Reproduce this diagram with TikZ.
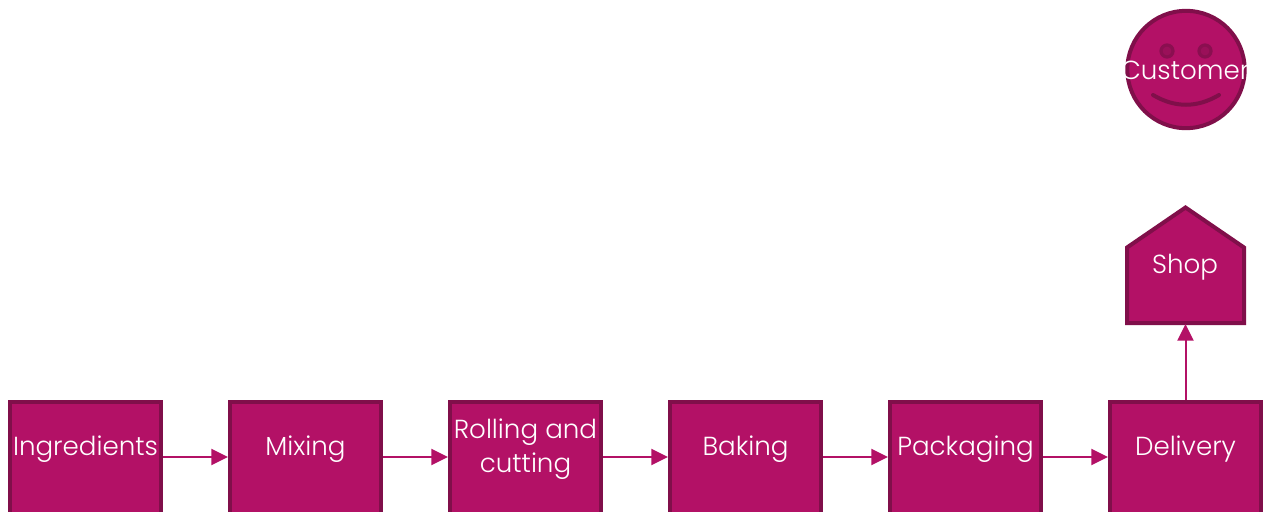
\documentclass[tikz,border=0pt]{standalone}
\usepackage{fontspec}
\setmainfont{Poppins}[UprightFont=* Light]
\usetikzlibrary{arrows.meta}
\definecolor{plumfill}{HTML}{B31166}
\definecolor{plumedge}{HTML}{800F4A}
\definecolor{plumeye}{HTML}{8A0F50}
\definecolor{plumpupil}{HTML}{9A1059}
\tikzset{
  procbox/.style={draw=plumedge,fill=plumfill,line width=3pt,inner sep=0pt,minimum width=113.25pt,minimum height=97.5pt,anchor=north},
  boxtext/.style={text=white,font=\fontsize{19.6}{25.2}\selectfont,align=center,inner sep=0pt},
  flow/.style={draw=plumfill,line width=1.5pt,-{Triangle[length=12.5pt,width=12pt]}},
  plumline/.style={draw=plumedge,line width=3pt},
  eyedot/.style={draw=plumeye,fill=plumpupil,line width=2.4pt}
}
\begin{document}
\begin{tikzpicture}[x=0.75pt,y=-0.75pt]
  \clip[use as bounding box] (0,0) rectangle (1266,511);
  \coordinate (flowrow) at (0,457);
  \node[procbox] (ingredients) at (85.5,399.5) {};
  \node[procbox] (mixing) at (305.5,399.5) {};
  \node[procbox] (rolling) at (525.5,399.5) {};
  \node[procbox] (baking) at (745.5,399.5) {};
  \node[procbox] (packaging) at (965.5,399.5) {};
  \node[procbox] (delivery) at (1185.5,399.5) {};
  \node[boxtext] (ingredientstext) at (85.5,449) {Ingredients};
  \node[boxtext] (mixingtext) at (305.5,449) {Mixing};
  \node[boxtext] (rollingtext) at (525.5,449) {Rolling and\\cutting};
  \node[boxtext] (bakingtext) at (745.5,449) {Baking};
  \node[boxtext] (packagingtext) at (965.5,449) {Packaging};
  \node[boxtext] (deliverytext) at (1185.5,449) {Delivery};
  % shop
  \node[inner sep=0pt,outer sep=0pt,minimum width=89pt,minimum height=57.75pt] (shop) at (1185.5,285.5) {};
  \draw[plumline,fill=plumfill] (1127,323) -- (1127,247.5) -- (1185.5,207.5) -- (1244,247.5) -- (1244,323) -- cycle;
  \node[boxtext] (shoptext) at (1185,267) {Shop};
  % customer
  \node[circle,plumline,fill=plumfill,minimum size=88pt,inner sep=0pt] (customer) at (1186,69.5) {};
  \filldraw[eyedot] (1167,51) circle (6);
  \filldraw[eyedot] (1205,51) circle (6);
  \draw[plumline,line cap=round] (1153,95) .. controls (1175,108) and (1197,108) .. (1219,95);
  \node[boxtext] (customertext) at (1185,70) {Customer};
  \foreach \from/\to in {ingredients/mixing,mixing/rolling,rolling/baking,baking/packaging,packaging/delivery} {
    \draw[flow] (\from.east |- flowrow) -- (\to.west |- flowrow);
  }
  \draw[flow] (delivery.north) -- (shop.south);
\end{tikzpicture}
\end{document}
